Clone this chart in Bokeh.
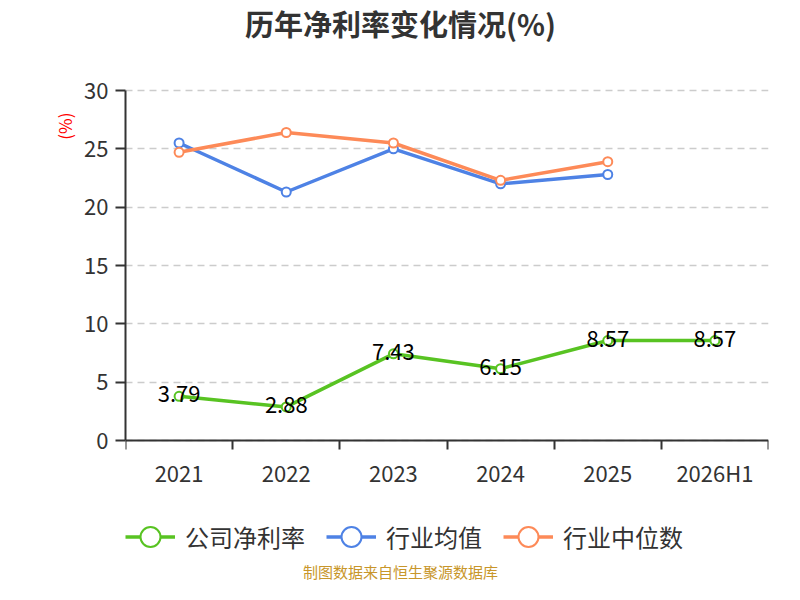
from bokeh.core.properties import value
from bokeh.embed import file_html
from bokeh.models import ColumnDataSource, FixedTicker, Label, Legend, LegendItem, Title
from bokeh.plotting import figure
from bokeh.resources import INLINE

years = ["2021", "2022", "2023", "2024", "2025", "2026H1"]
net_margin = [3.79, 2.88, 7.43, 6.15, 8.57, 8.57]
industry_avg = [25.5, 21.3, 25.0, 22.0, 22.8]
industry_median = [24.7, 26.4, 25.5, 22.3, 23.9]
y_ticks = [0, 5, 10, 15, 20, 25, 30]

FONT = "Noto Sans CJK SC"
GREEN = "#58c322"
BLUE = "#4e82e5"
ORANGE = "#fd8a58"
TEXT = "#333333"

# category centres sit at i + 0.5, the boundaries carry the tick marks
xs = [i + 0.5 for i in range(len(years))]

# the frame runs over the full height so the legend and notes below the axis are not clipped;
# 30 sits 90px under the top, 0 sits 144px above the bottom
px_per_unit = 350 / 30
p = figure(width=784, height=584, x_range=(0, len(years)),
           y_range=(-144 / px_per_unit, 30 + 90 / px_per_unit),
           output_backend="svg", toolbar_location=None,
           min_border_left=125, min_border_right=16, min_border_top=0, min_border_bottom=0)
p.outline_line_color = None
p.xgrid.grid_line_color = None
p.ygrid.ticker = FixedTicker(ticks=y_ticks)
p.ygrid.grid_line_color = "#cccccc"
p.ygrid.grid_line_dash = "7 5"
p.ygrid.grid_line_width = 1.5

# y axis
p.yaxis.ticker = FixedTicker(ticks=y_ticks)
p.yaxis.bounds = (0, 30)
p.yaxis.axis_line_color = TEXT
p.yaxis.axis_line_width = 2
p.yaxis.major_tick_line_color = TEXT
p.yaxis.major_tick_line_width = 2
p.yaxis.major_tick_out = 10
p.yaxis.major_tick_in = 0
p.yaxis.minor_tick_line_color = None
p.yaxis.major_label_text_font = FONT
p.yaxis.major_label_text_font_size = "22px"
p.yaxis.major_label_text_color = TEXT
p.yaxis.major_label_standoff = 7

unit = Title(text="(%)", align="right", offset=112, text_font=FONT, text_font_size="17px",
             text_font_style="normal", text_color="red")
p.add_layout(unit, "left")

# x axis, pinned at y = 0
p.xaxis.fixed_location = 0
p.xaxis.ticker = FixedTicker(ticks=xs, minor_ticks=list(range(len(years) + 1)))
p.xaxis.major_label_overrides = {x: y for x, y in zip(xs, years)}
p.xaxis.axis_line_color = TEXT
p.xaxis.axis_line_width = 2
p.xaxis.major_tick_line_color = None
p.xaxis.major_tick_out = 9
p.xaxis.major_tick_in = 0
p.xaxis.minor_tick_line_color = TEXT
p.xaxis.minor_tick_line_width = 2
p.xaxis.minor_tick_out = 9
p.xaxis.minor_tick_in = 0
p.xaxis.major_label_text_font = FONT
p.xaxis.major_label_text_font_size = "22px"
p.xaxis.major_label_text_color = TEXT
p.xaxis.major_label_standoff = 6

company = ColumnDataSource(data=dict(x=xs, y=net_margin, label=[f"{v:.2f}" for v in net_margin]))
avg = ColumnDataSource(data=dict(x=xs[:len(industry_avg)], y=industry_avg))
median = ColumnDataSource(data=dict(x=xs[:len(industry_median)], y=industry_median))

items = []
for name, src, color in [("公司净利率", company, GREEN), ("行业均值", avg, BLUE), ("行业中位数", median, ORANGE)]:
    ln = p.line("x", "y", source=src, line_color=color, line_width=3.5)
    sc = p.scatter("x", "y", source=src, size=9, fill_color="white", line_color=color, line_width=2)
    items.append(LegendItem(label=name, renderers=[ln, sc]))

p.text("x", "y", text="label", source=company, text_align="center", text_baseline="middle",
       text_font=value(FONT), text_font_size="22px", text_color="black", y_offset=-2)

legend = Legend(items=items, orientation="horizontal", location=(0, 20),
                glyph_width=50, glyph_height=55, label_text_font=FONT, label_text_font_size="24px",
                label_text_color=TEXT, label_standoff=10, spacing=21, border_line_color=None,
                background_fill_alpha=0, margin=0, padding=0)
p.add_layout(legend)

p.add_layout(Label(x=2.566, y=30 + 68 / px_per_unit, text="历年净利率变化情况(%)", text_align="center",
                   text_baseline="middle", text_font=FONT, text_font_size="29px",
                   text_font_style="bold", text_color=TEXT))
p.add_layout(Label(x=2.566, y=-131 / px_per_unit, text="制图数据来自恒生聚源数据库", text_align="center",
                   text_baseline="middle", text_font=FONT, text_font_size="15px", text_color="#c8962a"))

open("out.html", "w").write(file_html(p, INLINE))
